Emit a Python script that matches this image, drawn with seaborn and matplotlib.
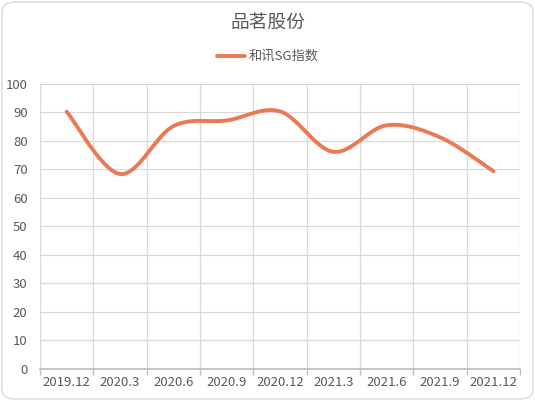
import numpy as np
import pandas as pd
import seaborn as sns
import matplotlib.pyplot as plt
from matplotlib.patches import FancyBboxPatch

periods = ['2019.12', '2020.3', '2020.6', '2020.9', '2020.12',
           '2021.3', '2021.6', '2021.9', '2021.12']
sg_index = [90.3, 68.4, 85.2, 87.2, 90.4, 76.2, 85.5, 81.3, 69.4]

series_name = '和讯SG指数'
title = '品茗股份'
line_color = '#EA7A55'
text_color = '#595959'
grid_color = '#D9D9D9'

sns.set_theme(style='white')
plt.rcParams['font.family'] = ['Noto Sans CJK SC', 'DejaVu Sans']


# smooth line like the spreadsheet one (bezier through the points)
def smooth(y, n=30):
    x = np.arange(len(y), dtype=float)
    pts = np.column_stack([x, np.asarray(y, dtype=float)])
    out = []
    for i in range(len(pts) - 1):
        p0 = pts[max(i - 1, 0)]
        p1 = pts[i]
        p2 = pts[i + 1]
        p3 = pts[min(i + 2, len(pts) - 1)]
        c1 = p1 + (p2 - p0) / 6
        c2 = p2 - (p3 - p1) / 6
        t = np.linspace(0, 1, n, endpoint=(i == len(pts) - 2))[:, None]
        seg = ((1 - t) ** 3) * p1 + 3 * ((1 - t) ** 2) * t * c1 + 3 * (1 - t) * t ** 2 * c2 + t ** 3 * p2
        out.append(seg)
    out = np.vstack(out)
    return out[:, 0], out[:, 1]


sx, sy = smooth(sg_index)
df = pd.DataFrame({'pos': sx, 'value': sy, 'series': series_name})

fig = plt.figure(figsize=(5.35, 4.01), dpi=100)
ax = fig.add_axes([40 / 535, 1 - 368.8 / 401, 480 / 535, (368.8 - 84) / 401])

sns.lineplot(data=df, x='pos', y='value', hue='series', palette=[line_color],
             linewidth=2.8, sort=False, estimator=None, ax=ax, legend=False)

ax.set_xlim(-0.5, len(periods) - 0.5)
ax.set_ylim(0, 100)
ax.set_yticks(range(0, 101, 10))
ax.set_xticks(range(len(periods)))
ax.set_xticklabels(periods)
ax.set_xticks(np.arange(-0.5, len(periods), 1), minor=True)
ax.set_xlabel('')
ax.set_ylabel('')

ax.grid(axis='y', color=grid_color, linewidth=0.9)
ax.grid(axis='x', which='minor', color=grid_color, linewidth=0.9)
ax.set_axisbelow(True)
for s in ['top', 'right', 'left']:
    ax.spines[s].set_visible(False)
ax.spines['bottom'].set_color('#BFBFBF')
ax.tick_params(axis='x', which='major', length=0, labelsize=9.5, labelcolor=text_color, pad=5)
ax.tick_params(axis='x', which='minor', length=4, color='#BFBFBF', direction='out', bottom=True)
ax.tick_params(axis='y', length=0, labelsize=9.5, labelcolor=text_color, pad=9)

fig.text(0.5, 1 - 22 / 401, title, ha='center', va='center', fontsize=13.5, color=text_color)

# legend drawn by hand in figure coords
fig.add_artist(plt.Line2D([217 / 535, 245 / 535], [1 - 56 / 401] * 2, color=line_color, linewidth=2.8))
fig.text(249 / 535, 1 - 56 / 401, series_name, ha='left', va='center', fontsize=9.5, color=text_color)

border = FancyBboxPatch((2 / 535, 2 / 401), 531 / 535, 397 / 401,
                        boxstyle='round,pad=0,rounding_size=0.025',
                        transform=fig.transFigure, fill=False, edgecolor='#D9D9D9', linewidth=1)
fig.add_artist(border)

fig.savefig('out.png', dpi=100)
